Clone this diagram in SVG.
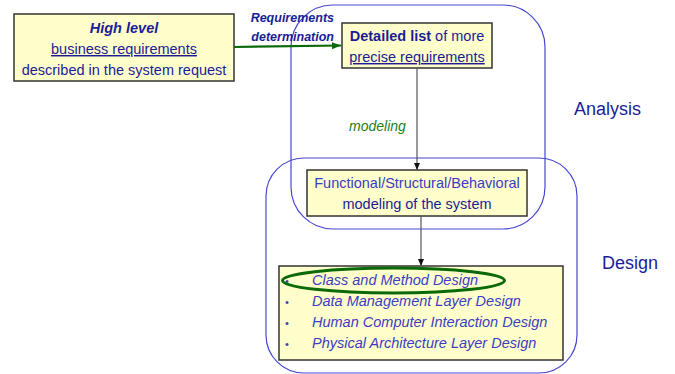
<svg xmlns="http://www.w3.org/2000/svg" width="675" height="374" viewBox="0 0 675 374">
<style>
text{font-family:"Liberation Sans",Arial,sans-serif;}
.box{fill:#ffffcc;stroke:#333;stroke-width:1.5;}
.phase{fill:none;stroke:#4646d2;stroke-width:1.2;}
.t{font-size:14.5px;fill:#1c1c96;}
.lt{font-size:14.5px;fill:#3c3cc4;}
.li{font-size:14.5px;fill:#3c3cc4;font-style:italic;}
.big{font-size:18px;fill:#1c1c96;}
.conn{stroke:#555;stroke-width:1.2;fill:none;}
</style>
<defs>
<marker id="ah" markerWidth="8" markerHeight="8" refX="7" refY="4" orient="auto" markerUnits="userSpaceOnUse"><path d="M0,1 L7,4 L0,7 z" fill="#111"/></marker>
<marker id="gh" markerWidth="10" markerHeight="10" refX="9" refY="5" orient="auto" markerUnits="userSpaceOnUse"><path d="M0,1.5 L9,5 L0,8.5 z" fill="#0a6a0a"/></marker>
</defs>
<g id="high-level">
<rect class="box" x="14" y="14" width="220" height="67"/>
<text class="t" x="124" y="33" text-anchor="middle" font-weight="bold" font-style="italic">High level</text>
<text class="t" x="124" y="54" text-anchor="middle" text-decoration="underline">business requirements</text>
<text class="t" x="124" y="75" text-anchor="middle">described in the system request</text>
</g>
<g id="detailed-list">
<rect class="box" x="342" y="23" width="150" height="45"/>
<text class="t" x="417" y="41" text-anchor="middle"><tspan font-weight="bold">Detailed list</tspan> of more</text>
<text class="t" x="417" y="62" text-anchor="middle" text-decoration="underline">precise requirements</text>
</g>
<g id="functional">
<rect class="box" x="307" y="170" width="220" height="46"/>
<text class="lt" x="417" y="188" text-anchor="middle">Functional/Structural/Behavioral</text>
<text class="t" x="417" y="209" text-anchor="middle">modeling of the system</text>
</g>
<g id="design-list">
<rect class="box" x="279" y="266" width="284" height="94"/>
<g class="li">
<text x="285" y="285" font-style="normal" font-size="11">•</text>
<text x="312" y="285">Class and Method Design</text>
<text x="285" y="306" font-style="normal" font-size="11">•</text>
<text x="312" y="306">Data Management Layer Design</text>
<text x="285" y="327" font-style="normal" font-size="11">•</text>
<text x="312" y="327">Human Computer Interaction Design</text>
<text x="285" y="348" font-style="normal" font-size="11">•</text>
<text x="312" y="348">Physical Architecture Layer Design</text>
</g>
<ellipse cx="393.5" cy="280.5" rx="111" ry="12.5" fill="none" stroke="#0a6a0a" stroke-width="3"/>
</g>
<g id="analysis">
<rect class="phase" x="291" y="5" width="254" height="224" rx="42" ry="42"/>
<text class="big" x="574" y="115">Analysis</text>
</g>
<g id="design">
<rect class="phase" x="266" y="158" width="311" height="215" rx="38" ry="38"/>
<text class="big" x="602" y="269">Design</text>
</g>
<g id="connectors">
<line x1="234" y1="47" x2="341" y2="45.5" stroke="#0a6a0a" stroke-width="2.2" marker-end="url(#gh)"/>
<text x="334" y="22" text-anchor="end" font-size="12.5" font-weight="bold" font-style="italic" fill="#1c1c96">Requirements</text>
<text x="334" y="41" text-anchor="end" font-size="12.5" font-weight="bold" font-style="italic" fill="#1c1c96">determination</text>
<line class="conn" x1="417" y1="68" x2="417" y2="170" marker-end="url(#ah)"/>
<text x="349" y="131" font-size="14" font-style="italic" fill="#1a801a">modeling</text>
<line class="conn" x1="421" y1="216" x2="421" y2="266" marker-end="url(#ah)"/>
</g>
</svg>
